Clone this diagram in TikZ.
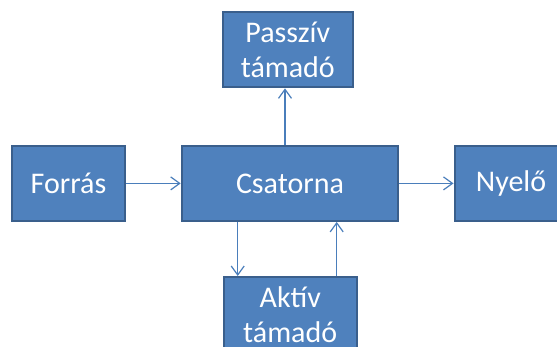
\documentclass[tikz,border=0pt]{standalone}
\usepackage{fontspec}
\setmainfont{Carlito}
\usetikzlibrary{arrows.meta}
\definecolor{boxfill}{HTML}{4F81BD}
\definecolor{boxline}{HTML}{3A5F8C}
\definecolor{arrowc}{HTML}{4A7EBB}
\begin{document}
\begin{tikzpicture}[x=1pt,y=-1pt,
  blockbox/.style={draw=boxline,fill=boxfill,line width=2pt,text=white,
    font=\fontsize{30}{35.5}\selectfont,align=center,inner sep=0pt},
  conn/.style={draw=arrowc,line width=1.2pt,-{Straight Barb[length=9pt,width=13pt]}}]
\useasboundingbox (0,0) rectangle (557,347);
\clip (0,0) rectangle (557,347);
\node[blockbox,minimum width=113pt,minimum height=75pt] (forras) at (68.5,183.4) {Forrás};
\node[blockbox,minimum width=216.6pt,minimum height=75pt] (csatorna) at (290,183.4) {Csatorna};
\node[blockbox,minimum width=113pt,minimum height=75pt] (nyelo) at (511,183.4) {Nyelő};
\node[blockbox,minimum width=130pt,minimum height=75.3pt] (passziv) at (287.8,49.7) {Passzív\\támadó};
\node[blockbox,minimum width=133pt,minimum height=75pt] (aktiv) at (290.2,314.5) {Aktív\\támadó};
\draw[conn] (forras.east) -- (csatorna.west);
\draw[conn] (csatorna.east) -- (nyelo.west);
\draw[conn] ([xshift=-5pt]csatorna.north) -- ([xshift=-5pt]csatorna.north |- passziv.south);
\draw[conn] ([xshift=-52.3pt]csatorna.south) -- ([xshift=-52.3pt]csatorna.south |- aktiv.north);
\draw[conn] ([xshift=46.7pt]csatorna.south |- aktiv.north) -- ([xshift=46.7pt]csatorna.south);
\end{tikzpicture}
\end{document}
